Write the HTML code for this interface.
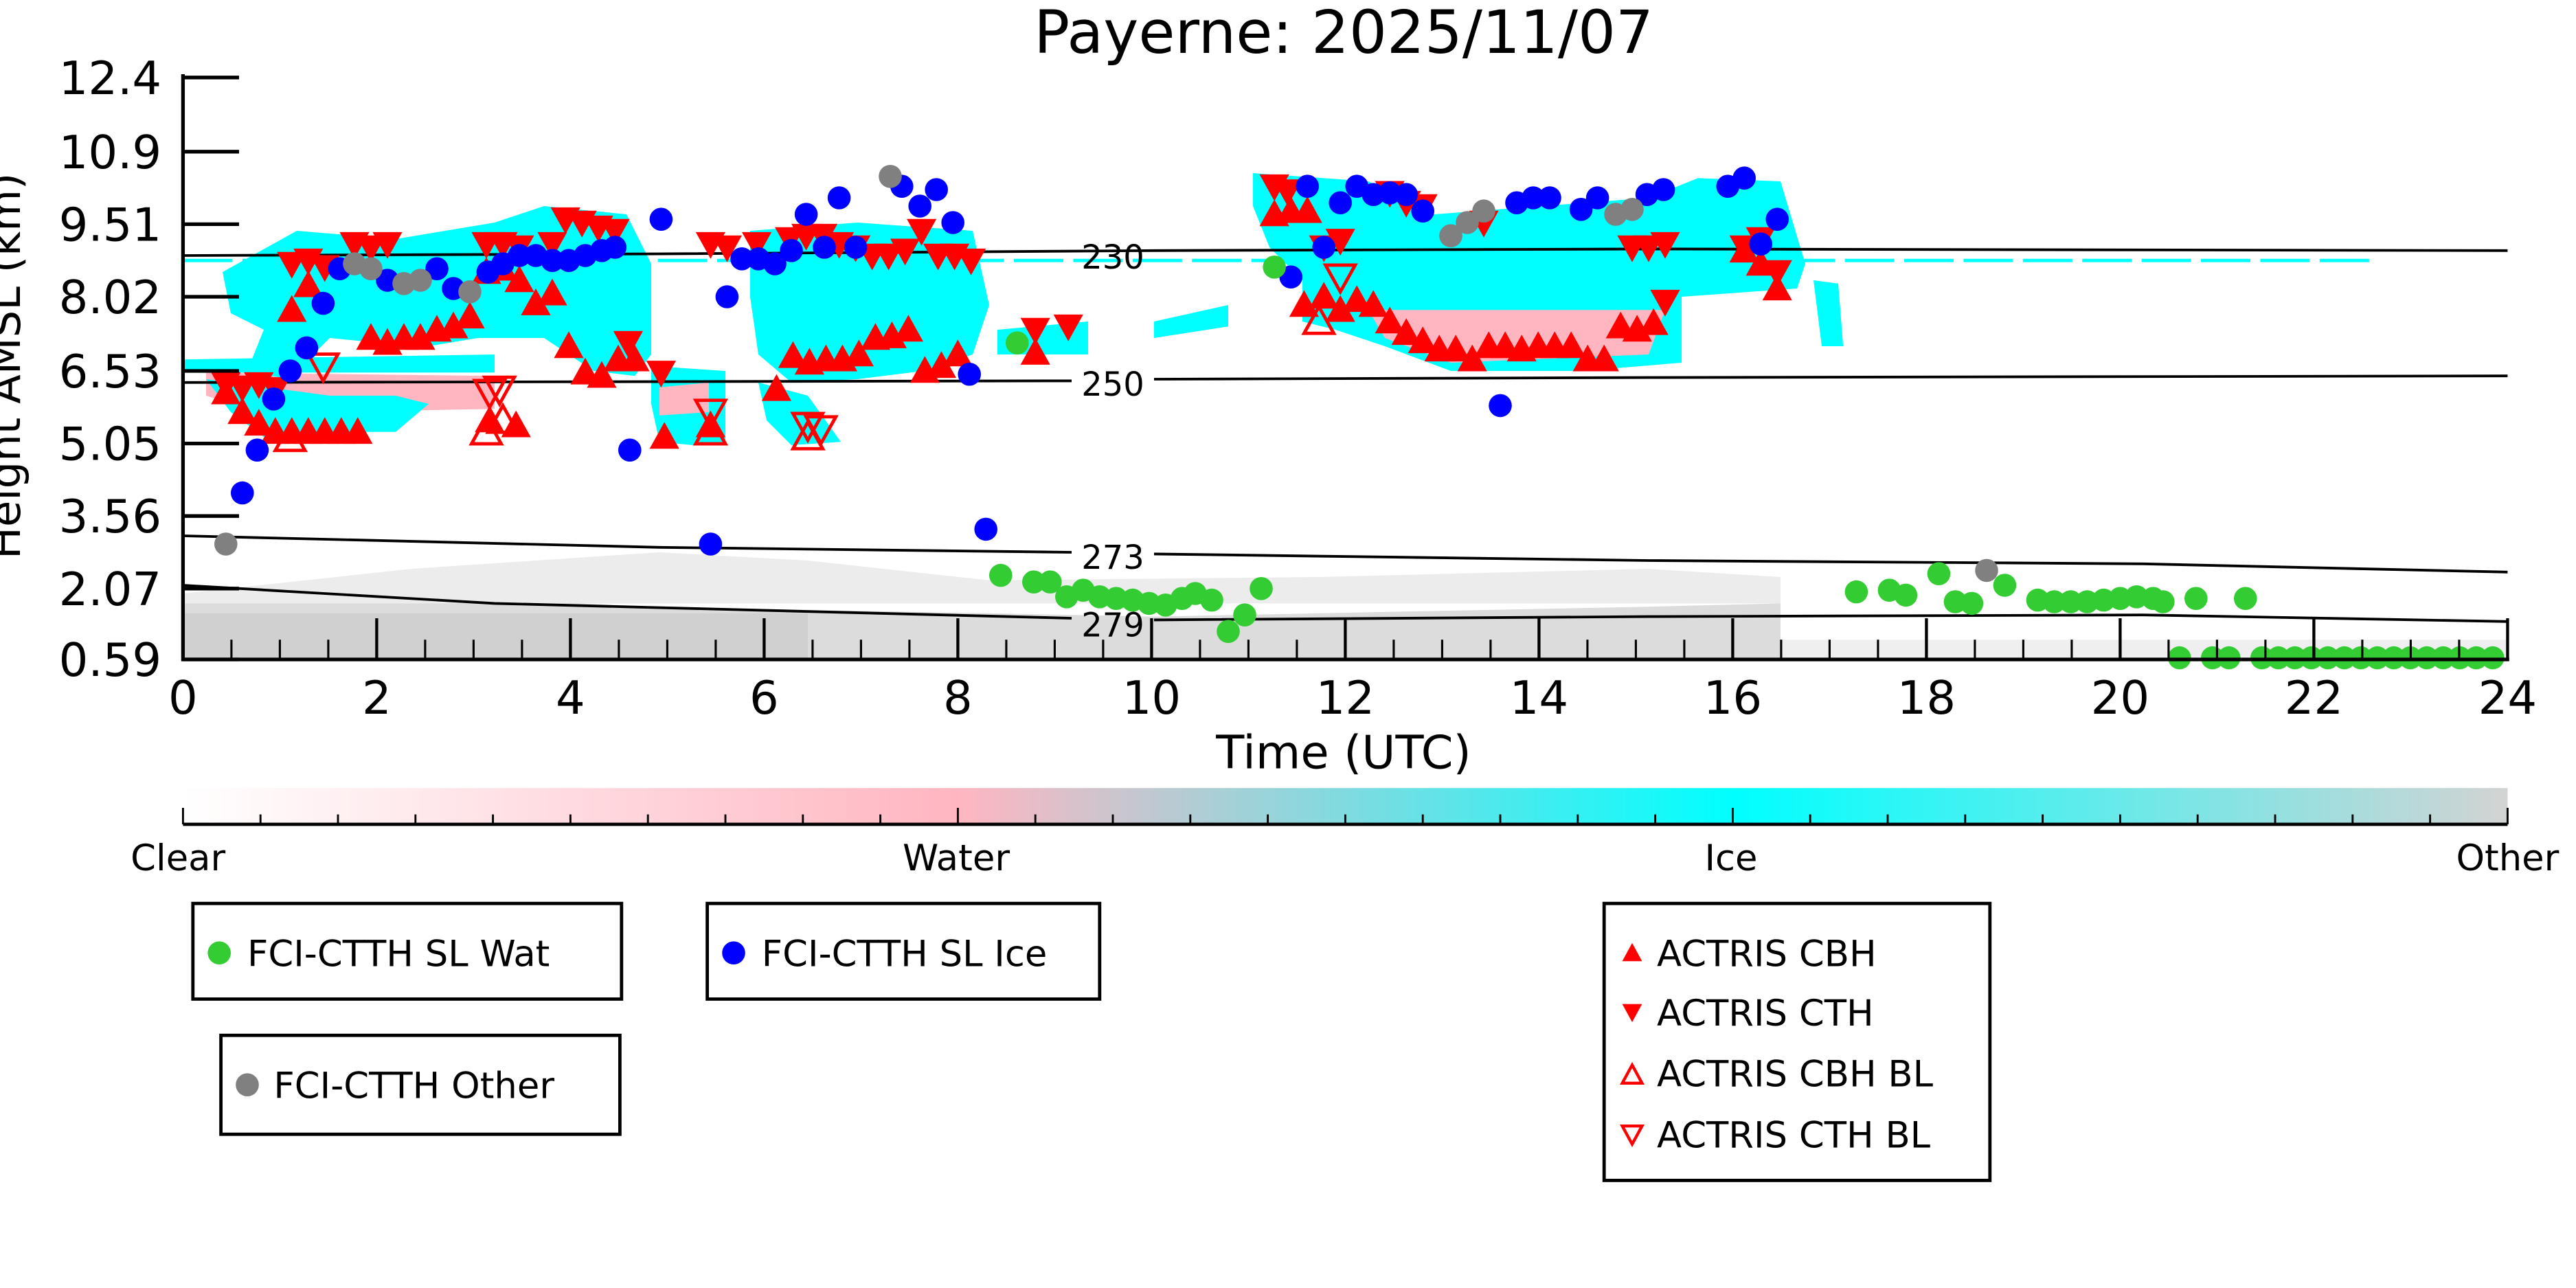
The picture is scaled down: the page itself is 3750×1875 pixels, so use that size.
<!DOCTYPE html>
<html><head><meta charset="utf-8"><style>
html,body{margin:0;padding:0;background:#fff;}
svg{display:block;}
text{font-family:"DejaVu Sans","Liberation Sans",sans-serif;}
</style></head><body>
<svg id="s" xmlns="http://www.w3.org/2000/svg" width="3750" height="1875" viewBox="0 0 1562.5 781.25">
<defs>
<linearGradient id="cb" x1="0" x2="1" y1="0" y2="0">
<stop offset="0" stop-color="#ffffff"/><stop offset="0.333" stop-color="#ffb6c1"/><stop offset="0.667" stop-color="#00ffff"/><stop offset="1" stop-color="#d3d3d3"/>
</linearGradient>
</defs>
<text x="815" y="32" font-size="36" text-anchor="middle">Payerne: 2025/11/07</text>
<g id="bg"></g>
<g id="lines" fill="none" stroke="#000" stroke-width="1.6"></g>
<g id="pts"></g>
<g id="axes"></g>
<text x="815" y="466" font-size="28" text-anchor="middle">Time (UTC)</text>
<text transform="translate(12,222) rotate(-90)" font-size="26" text-anchor="middle">Height AMSL (km)</text>
<rect x="111" y="478" width="1410" height="22" fill="url(#cb)"/>
<line x1="111" y1="500" x2="1521" y2="500" stroke="#000" stroke-width="2"/>
<g id="cbt"></g>
<text x="108" y="528" font-size="22" text-anchor="middle">Clear</text>
<text x="580" y="528" font-size="22" text-anchor="middle">Water</text>
<text x="1050" y="528" font-size="22" text-anchor="middle">Ice</text>
<text x="1521" y="528" font-size="22" text-anchor="middle">Other</text>
<g fill="none" stroke="#000" stroke-width="2">
<rect x="117" y="548" width="260" height="58"/>
<rect x="429" y="548" width="238" height="58"/>
<rect x="134" y="628" width="242" height="60"/>
<rect x="973" y="548" width="234" height="168"/>
</g>
<circle cx="133" cy="578" r="7" fill="#33cc33"/><text x="150" y="586" font-size="22">FCI-CTTH SL Wat</text>
<circle cx="445" cy="578" r="7" fill="#0000ff"/><text x="462" y="586" font-size="22">FCI-CTTH SL Ice</text>
<circle cx="150" cy="658" r="7" fill="#808080"/><text x="166" y="666" font-size="22">FCI-CTTH Other</text>
<polygon points="990,572 996,583 984,583" fill="#f00"/><text x="1005" y="586" font-size="22">ACTRIS CBH</text>
<polygon points="984,609 996,609 990,620" fill="#f00"/><text x="1005" y="622" font-size="22">ACTRIS CTH</text>
<polygon points="990,646 996,657 984,657" fill="none" stroke="#f00" stroke-width="1.8"/><text x="1005" y="659" font-size="22">ACTRIS CBH BL</text>
<polygon points="984,683 996,683 990,694" fill="none" stroke="#f00" stroke-width="1.8"/><text x="1005" y="696" font-size="22">ACTRIS CTH BL</text>
</svg>
<script>
var NS="http://www.w3.org/2000/svg";
function el(p,t,a){var e=document.createElementNS(NS,t);for(var k in a)e.setAttribute(k,a[k]);document.getElementById(p).appendChild(e);return e;}
var bgP=[
["#dcdcdc","111,400 111,360 200,362 300,364 400,368 490,370 600,372 700,374 800,372 900,370 1000,368 1080,366 1080,400"],
["#d0d0d0","111,400 111,372 490,372 490,400"],
["#ececec","111,360 250,345 400,335 490,340 600,352 800,350 1000,345 1080,350 1080,366 111,366"],
["#efefef","1080,400 1080,388 1521,388 1521,400"],
["#00ffff","111,218 300,215 300,226 111,226"],
["#ffb6c1","125,226 300,228 300,248 200,250 150,248 125,240"],
["#00ffff","125,230 140,250 160,265 200,262 240,262 260,245 240,240 200,240"],
["#00ffff","135,165 180,140 240,145 300,135 330,125 380,130 395,160 395,215 385,228 360,225 330,205 290,205 260,210 230,208 200,205 175,230 150,225 160,200 140,190"],
["#00ffff","395,222 440,225 440,268 420,270 400,268 395,245"],
["#ffb6c1","400,235 430,232 430,250 400,252"],
["#00ffff","455,140 520,135 590,140 600,185 590,215 560,225 520,230 480,232 460,215 455,180"],
["#00ffff","460,232 490,240 510,268 480,270 465,255"],
["#00ffff","605,200 660,195 660,215 605,215"],
["#00ffff","700,195 745,185 745,198 700,205"],
["#00ffff","760,105 830,110 870,130 1000,120 1030,108 1080,110 1095,160 1090,175 1020,180 1020,220 960,225 880,225 840,210 810,200 790,195 790,170 770,150 760,125"],
["#ffb6c1","830,188 1010,188 1000,215 880,220 840,205"],
["#00ffff","1100,170 1115,172 1118,210 1105,210"]
];
bgP.forEach(function(b){el("bg","polygon",{points:b[1],fill:b[0]});});
el("bg","line",{x1:111,y1:158,x2:1440,y2:158,stroke:"#00ffff","stroke-width":2,"stroke-dasharray":"30,6"});
var L=[["111,155 400,154 700,152 1000,151 1521,152"],["111,232 650,231"],["700,230 1000,229 1521,228"],
["111,325 400,332 650,335"],["700,336 1000,340 1300,342 1521,347"],["111,355 300,366 650,375"],["700,376 1000,374 1300,373 1521,377"]];
L.forEach(function(l){el("lines","polyline",{points:l[0]});});
[[675,155,"230"],[675,232,"250"],[675,337,"273"],[675,378,"279"]].forEach(function(t){var e=el("lines","text",{x:t[0],y:t[1]+8,"font-size":20,"text-anchor":"middle",fill:"#000",stroke:"none"});e.textContent=t[2];});
function C(c,arr){arr.forEach(function(p){el("pts","ellipse",{cx:p[0],cy:p[1],rx:7,ry:7,fill:c});});}
function T(up,fill,arr){var s=9;arr.forEach(function(p){var x=p[0],y=p[1],pts=up?(x+","+(y-s)+" "+(x+s)+","+(y+s*0.8)+" "+(x-s)+","+(y+s*0.8)):((x-s)+","+(y-s*0.8)+" "+(x+s)+","+(y-s*0.8)+" "+x+","+(y+s));
el("pts","polygon",fill?{points:pts,fill:"#f00"}:{points:pts,fill:"none",stroke:"#f00","stroke-width":2});});}
T(false,true,[[137,233],[147,235],[157,233],[167,236],[177,160],[187,158],[197,162],[215,148],[225,150],[235,148],[295,148],[305,148],[315,150],[335,148],[343,133],[353,135],[363,138],[373,140],[381,208],[401,226],[431,148],[441,150],[459,148],[479,145],[489,143],[499,143],[509,148],[519,150],[529,155],[539,155],[549,152],[559,140],[569,155],[579,155],[589,158],[628,200],[648,198],[773,113],[781,116],[803,150],[813,146],[843,117],[853,123],[863,125],[900,135],[990,150],[1000,150],[1010,148],[1058,150],[1068,145],[1078,165],[1010,183]]);
T(true,true,[[137,238],[147,250],[157,257],[167,262],[177,262],[187,262],[197,262],[207,262],[217,262],[177,188],[187,173],[225,205],[235,208],[245,205],[255,205],[265,200],[275,198],[285,192],[295,165],[305,163],[315,170],[325,184],[335,178],[345,210],[355,226],[365,228],[375,218],[385,218],[297,255],[313,258],[403,265],[431,258],[471,236],[481,216],[491,220],[501,218],[511,218],[521,215],[531,205],[541,204],[551,200],[561,225],[571,222],[581,215],[773,130],[783,128],[793,128],[803,180],[813,188],[823,182],[833,185],[843,195],[853,202],[863,207],[873,212],[883,212],[893,218],[903,210],[913,210],[923,212],[933,210],[943,210],[953,210],[963,218],[973,218],[983,198],[993,200],[1003,196],[628,214],[1058,152],[1068,160],[1078,175],[791,185]]);
T(true,false,[[176,266],[295,262],[305,255],[431,262],[490,265],[800,195]]);
T(false,false,[[196,222],[297,238],[303,236],[431,250],[490,258],[498,260],[813,168]]);
C("#0000ff",[[147,299],[156,273],[166,242],[176,225],[186,211],[196,184],[206,163],[235,170],[265,163],[275,175],[296,165],[305,160],[315,155],[325,155],[335,158],[345,158],[355,155],[365,152],[373,150],[401,133],[382,273],[431,330],[441,180],[450,157],[460,157],[470,160],[480,152],[489,130],[500,150],[509,120],[519,150],[547,113],[558,125],[568,115],[578,135],[588,227],[598,321],[783,168],[793,113],[803,150],[813,123],[823,113],[833,118],[843,117],[853,118],[863,128],[910,246],[920,123],[930,120],[940,120],[959,127],[969,120],[999,118],[1009,115],[1048,113],[1058,108],[1068,148],[1078,133]]);
C("#808080",[[137,330],[215,160],[225,163],[245,172],[255,170],[285,177],[540,107],[880,143],[890,135],[900,128],[980,130],[990,127],[1205,346]]);
var g=[[607,349],[617,208],[627,353],[637,353],[647,362],[657,358],[667,362],[677,363],[687,364],[697,366],[707,367],[717,363],[725,360],[735,364],[745,383],[755,373],[765,357],[773,162],[1126,359],[1146,358],[1156,361],[1176,348],[1186,365],[1196,366],[1216,355],[1236,364],[1246,365],[1256,365],[1266,365],[1276,364],[1286,363],[1296,362],[1306,363],[1312,365],[1332,363],[1362,363],[1322,399],[1342,399],[1352,399]];
for(var x=1372;x<=1515;x+=10)g.push([x,399]);
C("#33cc33",g);
el("axes","line",{x1:111,y1:45,x2:111,y2:401,stroke:"#000","stroke-width":2.2});
el("axes","line",{x1:110,y1:400,x2:1522,y2:400,stroke:"#000","stroke-width":2.2});
var yl=["12.4","10.9","9.51","8.02","6.53","5.05","3.56","2.07","0.59"],yp=[47,92,136,180,225,269,313,357,400];
for(var i=0;i<9;i++){el("axes","line",{x1:111,y1:yp[i],x2:145,y2:yp[i],stroke:"#000","stroke-width":2.2});
var t=el("axes","text",{x:98,y:yp[i]+10,"font-size":28,"text-anchor":"end"});t.textContent=yl[i];}
for(var h=0;h<=48;h++){var x=111+h*29.375,maj=h%4==0;
el("axes","line",{x1:x,y1:400,x2:x,y2:maj?375:388,stroke:"#000","stroke-width":maj?1.8:1.3});
if(maj){var t=el("axes","text",{x:x,y:433,"font-size":28,"text-anchor":"middle"});t.textContent=String(h/2);}}
for(var k=0;k<=30;k++){var x=111+k*47,maj=k%10==0;el("cbt","line",{x1:x,y1:500,x2:x,y2:maj?490:494,stroke:"#000","stroke-width":1.2});}
</script>
</body></html>
